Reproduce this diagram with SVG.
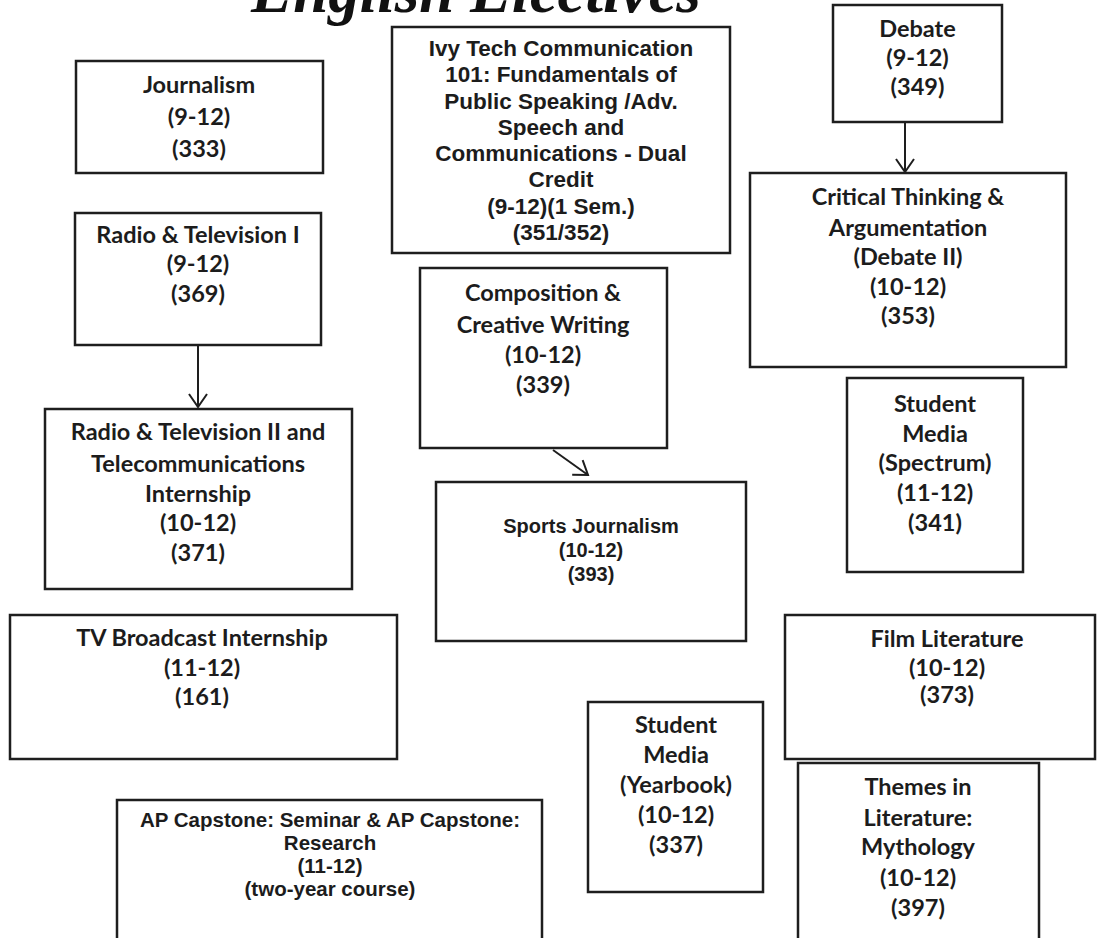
<svg xmlns="http://www.w3.org/2000/svg" width="1099" height="938" viewBox="0 0 1099 938">
<style>
.box{fill:#fff;stroke:#1e1e1e;stroke-width:2.5}
.c{font-family:Lato,"Open Sans",sans-serif;font-weight:bold;font-size:23.5px;fill:#1c1c1c;text-anchor:middle}
.a{font-family:"Liberation Sans",Arial,sans-serif;font-weight:bold;fill:#1c1c1c;text-anchor:middle}
.t{font-family:"Liberation Serif","Times New Roman",serif;font-weight:bold;font-style:italic;font-size:63px;fill:#111;text-anchor:middle}
.edge{stroke:#1e1e1e;stroke-width:2;fill:none}
</style>
<defs>
<marker id="v" markerUnits="userSpaceOnUse" markerWidth="30" markerHeight="30" refX="0" refY="0" viewBox="-15 -15 30 30" orient="auto" overflow="visible">
<path d="M-13,-9 L0,0 L-13,9" fill="none" stroke="#1e1e1e" stroke-width="2"/>
</marker>
</defs>
<rect width="1099" height="938" fill="#fff"/>
<text class="t" x="476" y="12">English Electives</text>

<g id="journalism">
<rect class="box" x="76" y="61" width="247" height="112"/>
<text class="c" x="199" y="93">Journalism</text>
<text class="c" x="199" y="125">(9-12)</text>
<text class="c" x="199" y="157">(333)</text>
</g>

<g id="ivytech">
<rect class="box" x="392" y="27" width="338" height="226"/>
<g class="a" font-size="22.5">
<text x="561" y="56">Ivy Tech Communication</text>
<text x="561" y="82">101: Fundamentals of</text>
<text x="561" y="109">Public Speaking /Adv.</text>
<text x="561" y="135">Speech and</text>
<text x="561" y="161">Communications - Dual</text>
<text x="561" y="187">Credit</text>
<text x="561" y="214">(9-12)(1 Sem.)</text>
<text x="561" y="240">(351/352)</text>
</g>
</g>

<g id="debate">
<rect class="box" x="833" y="5" width="169" height="117"/>
<text class="c" x="917.5" y="37">Debate</text>
<text class="c" x="917.5" y="66">(9-12)</text>
<text class="c" x="917.5" y="95">(349)</text>
</g>

<g id="critical">
<rect class="box" x="750" y="173" width="316" height="194"/>
<text class="c" x="908" y="205">Critical Thinking &amp;</text>
<text class="c" x="908" y="236">Argumentation</text>
<text class="c" x="908" y="265">(Debate II)</text>
<text class="c" x="908" y="295">(10-12)</text>
<text class="c" x="908" y="324">(353)</text>
</g>

<g id="radio1">
<rect class="box" x="75" y="213" width="246" height="132"/>
<text class="c" x="198" y="243">Radio &amp; Television I</text>
<text class="c" x="198" y="272">(9-12)</text>
<text class="c" x="198" y="302">(369)</text>
</g>

<g id="radio2">
<rect class="box" x="45" y="409" width="307" height="180"/>
<text class="c" x="198" y="440">Radio &amp; Television II and</text>
<text class="c" x="198" y="472">Telecommunications</text>
<text class="c" x="198" y="502">Internship</text>
<text class="c" x="198" y="531">(10-12)</text>
<text class="c" x="198" y="561">(371)</text>
</g>

<g id="tvbroadcast">
<rect class="box" x="10" y="615" width="387" height="144"/>
<text class="c" x="202" y="646">TV Broadcast Internship</text>
<text class="c" x="202" y="676">(11-12)</text>
<text class="c" x="202" y="705">(161)</text>
</g>

<g id="composition">
<rect class="box" x="420" y="268" width="247" height="180"/>
<text class="c" x="543" y="301">Composition &amp;</text>
<text class="c" x="543" y="333">Creative Writing</text>
<text class="c" x="543" y="363">(10-12)</text>
<text class="c" x="543" y="393">(339)</text>
</g>

<g id="sports">
<rect class="box" x="436" y="482" width="310" height="159"/>
<g class="a" font-size="20">
<text x="591" y="533">Sports Journalism</text>
<text x="591" y="557">(10-12)</text>
<text x="591" y="581">(393)</text>
</g>
</g>

<g id="spectrum">
<rect class="box" x="847" y="378" width="176" height="194"/>
<text class="c" x="935" y="412">Student</text>
<text class="c" x="935" y="442">Media</text>
<text class="c" x="935" y="471">(Spectrum)</text>
<text class="c" x="935" y="501">(11-12)</text>
<text class="c" x="935" y="531">(341)</text>
</g>

<g id="film">
<rect class="box" x="785" y="615" width="310" height="144"/>
<text class="c" x="947" y="647">Film Literature</text>
<text class="c" x="947" y="676">(10-12)</text>
<text class="c" x="947" y="703">(373)</text>
</g>

<g id="yearbook">
<rect class="box" x="588" y="702" width="175" height="190"/>
<text class="c" x="676" y="733">Student</text>
<text class="c" x="676" y="763">Media</text>
<text class="c" x="676" y="793">(Yearbook)</text>
<text class="c" x="676" y="823">(10-12)</text>
<text class="c" x="676" y="853">(337)</text>
</g>

<g id="themes">
<rect class="box" x="798" y="763" width="241" height="200"/>
<text class="c" x="918" y="795">Themes in</text>
<text class="c" x="918" y="826">Literature:</text>
<text class="c" x="918" y="855">Mythology</text>
<text class="c" x="918" y="886">(10-12)</text>
<text class="c" x="918" y="916">(397)</text>
</g>

<g id="apcapstone">
<rect class="box" x="117" y="800" width="425" height="200"/>
<g class="a" font-size="20.5">
<text x="330" y="827">AP Capstone: Seminar &amp; AP Capstone:</text>
<text x="330" y="850">Research</text>
<text x="330" y="873">(11-12)</text>
<text x="330" y="896">(two-year course)</text>
</g>
</g>

<g id="connectors">
<line class="edge" x1="905" y1="122" x2="905" y2="172" marker-end="url(#v)"/>
<line class="edge" x1="198" y1="345" x2="198" y2="407" marker-end="url(#v)"/>
<line class="edge" x1="553" y1="450" x2="588" y2="475" marker-end="url(#v)"/>
</g>
</svg>
